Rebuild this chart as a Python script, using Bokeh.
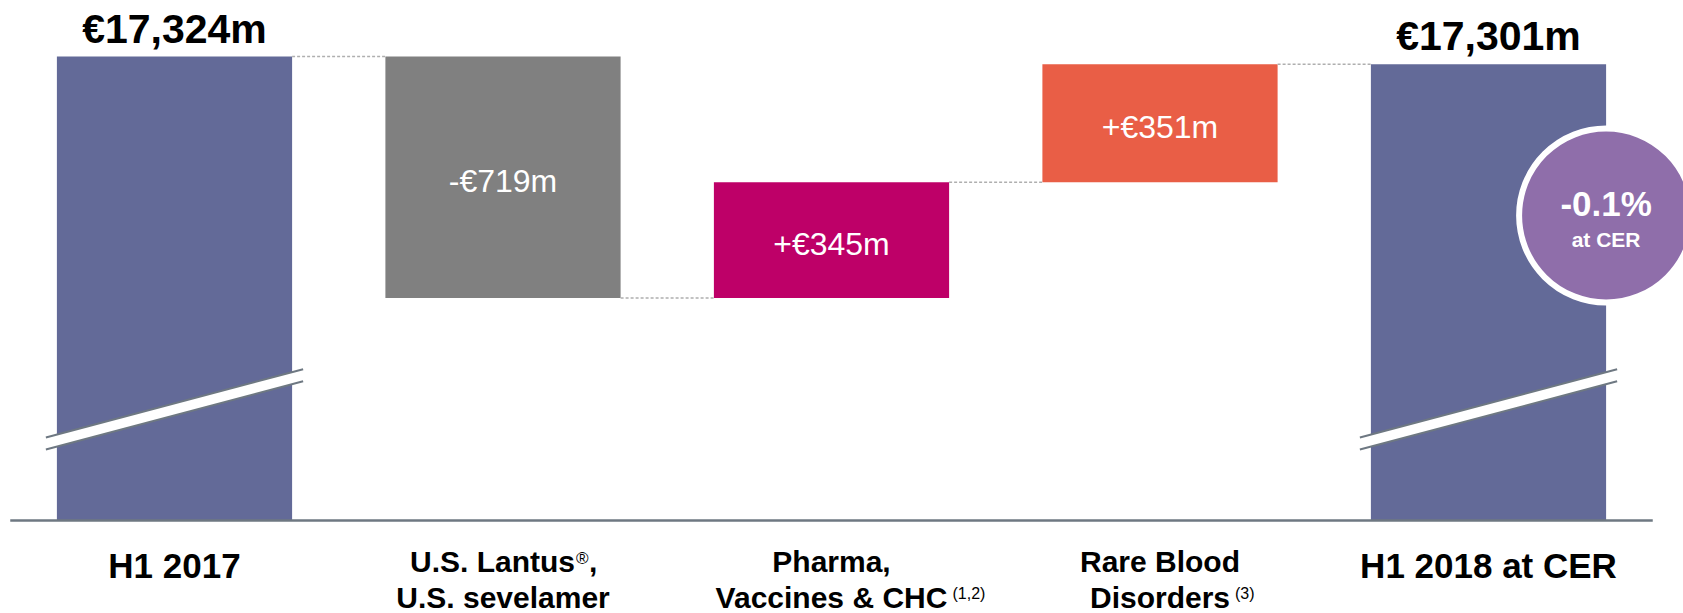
from bokeh.plotting import figure
from bokeh.models import Range1d
from bokeh.embed import file_html
from bokeh.resources import INLINE
from bokeh.core.properties import value

# ---------------- data ----------------
categories_line1 = ["H1 2017", "U.S. Lantus®,", "Pharma,", "Rare Blood", "H1 2018 at CER"]
categories_line2 = ["", "U.S. sevelamer", "Vaccines & CHC", "Disorders", ""]
category_notes = ["", "", "(1,2)", "(3)", ""]
start_total = 17324
deltas = [-719, 345, 351]
end_total = 17301
value_labels = ["€17,324m", "-€719m", "+€345m", "+€351m", "€17,301m"]
growth_label = "-0.1%"
growth_sub = "at CER"

# ---------------- styling ----------------
TOTAL_C = "#636A98"
DELTA_C = ["#808080", "#BE0068", "#E95E46"]
CIRCLE_C = "#8F6EAA"
AXIS_C = "#6E7882"
DASH_C = "#AFAFAF"
FONT = "Liberation Sans"

W, H = 1683, 613
PX_X = 328.5          # px per category
PX_Y = 0.336          # px per EUR m
x0 = -174 / PX_X
y_top = start_total + 56 / PX_Y
y_bot = y_top - H / PX_Y
baseline = start_total - (520 - 56) / PX_Y
BW = 0.716

p = figure(width=W, height=H, output_backend="svg", toolbar_location=None,
           x_range=Range1d(x0, x0 + W / PX_X), y_range=Range1d(y_bot, y_top),
           min_border=0, outline_line_color=None, background_fill_color="white",
           border_fill_color="white")
p.axis.visible = False
p.grid.visible = False

n = len(categories_line1)
xs = list(range(n))

# bar extents
bottoms, tops, colors = [], [], []
bottoms.append(baseline); tops.append(start_total); colors.append(TOTAL_C)
level = start_total
for i, d in enumerate(deltas):
    new = level + d
    bottoms.append(min(level, new)); tops.append(max(level, new)); colors.append(DELTA_C[i])
    level = new
bottoms.append(baseline); tops.append(end_total); colors.append(TOTAL_C)

p.vbar(x=xs, width=BW, bottom=bottoms, top=tops, fill_color=colors, line_color=None)

# connectors
levels = [start_total]
lv = start_total
for d in deltas:
    lv += d
    levels.append(lv)
levels.append(end_total)
p.segment(x0=[xs[i] + BW / 2 for i in range(n - 1)], y0=levels[:-1],
          x1=[xs[i + 1] - BW / 2 for i in range(n - 1)], y1=levels[:-1],
          line_color=DASH_C, line_width=1.5, line_dash="3 2")

# axis baseline
p.segment(x0=[xs[0] - 0.5], y0=[baseline], x1=[xs[-1] + 0.5], y1=[baseline],
          line_color=AXIS_C, line_width=2.5)

# break marks on total bars
span = start_total - baseline
ov = 11 / PX_X
half_t = 6 / PX_Y
for i in (0, n - 1):
    xl, xr = xs[i] - BW / 2 - ov, xs[i] + BW / 2 + ov
    yl, yr = baseline + 0.166 * span, baseline + 0.313 * span
    p.patch(x=[xl, xr, xr, xl], y=[yl - half_t, yr - half_t, yr + half_t, yl + half_t],
            fill_color="white", line_color=None)
    p.segment(x0=[xl, xl], y0=[yl - half_t, yl + half_t], x1=[xr, xr], y1=[yr - half_t, yr + half_t],
              line_color=AXIS_C, line_width=2)

def txt(x, y, s, size, bold=True, color="black", align="center", base="middle", dx=0, dy=0):
    p.text(x=[x], y=[y], text=[s], text_align=align, text_baseline=base,
           x_offset=dx, y_offset=dy, text_font=value(FONT),
           text_font_style="bold" if bold else "normal",
           text_font_size=f"{size}px", text_color=color)

# total labels above bars
for i in (0, n - 1):
    txt(xs[i], tops[i], value_labels[i], 41, dy=-28)

# delta labels inside bars
for i in range(1, n - 1):
    txt(xs[i], (bottoms[i] + tops[i]) / 2, value_labels[i], 32, bold=False, color="white", dy=4)

# category labels
for i in range(n):
    l1 = categories_line1[i]
    if categories_line2[i]:
        if "®" in l1:
            pre, post = l1.split("®")
            txt(xs[i], baseline, pre, 30, align="right", dx=72, dy=41)
            txt(xs[i], baseline, "®", 17, bold=False, align="left", base="top", dx=73, dy=28)
            txt(xs[i], baseline, post, 30, align="left", dx=86, dy=41)
        else:
            txt(xs[i], baseline, l1, 30, dy=41)
        txt(xs[i], baseline, categories_line2[i], 30, dy=77)
    else:
        txt(xs[i], baseline, l1, 35, dy=44.5)

note_dx = {2: 121, 3: 75}
for i, dx in note_dx.items():
    txt(xs[i], baseline, category_notes[i], 16, bold=False, align="left", base="top", dx=dx, dy=64)

# growth circle
cx = xs[-1] + BW / 2
cy = start_total - (215 - 56) / PX_Y
p.scatter(x=[cx], y=[cy], size=174, marker="circle", fill_color=CIRCLE_C,
          line_color="white", line_width=6)
txt(cx, cy, growth_label, 35, color="white", dy=-12)
txt(cx, cy, growth_sub, 21, color="white", dy=24)

open("out.html", "w").write(file_html(p, INLINE))
